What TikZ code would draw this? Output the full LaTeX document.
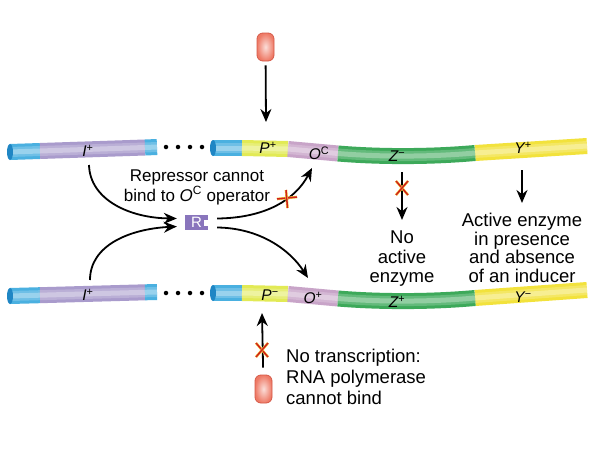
\documentclass[tikz,border=0pt]{standalone}
\usepackage{fontspec}
\setmainfont{Liberation Sans}
\usetikzlibrary{arrows.meta}
\definecolor{tblue}{HTML}{4AB0E0}
\definecolor{tbluedk}{HTML}{1F86C4}
\definecolor{tpurple}{HTML}{A99BCC}
\definecolor{tpyel}{HTML}{E2EA55}
\definecolor{topink}{HTML}{C8A4C8}
\definecolor{tgreen}{HTML}{3DA95A}
\definecolor{tyellow}{HTML}{F2E23C}
\definecolor{rpurple}{HTML}{8975BC}
\definecolor{polfill}{HTML}{EE7A66}
\definecolor{poldraw}{HTML}{D65A48}
\definecolor{xred}{HTML}{D0201E}
\definecolor{xyel}{HTML}{F5D040}
\begin{document}
\begin{tikzpicture}[x=1pt,y=-1pt,
  tube/.style={line width=16pt,line cap=butt},
  shine/.style={line width=10pt,white,opacity=0.2,line cap=butt},
  shinein/.style={line width=5pt,white,opacity=0.3,line cap=butt},
  arr/.style={line width=1.8pt,-{Stealth[length=13pt,width=11pt]}},
  lbl/.style={font=\fontsize{15.5}{15.5}\selectfont,inner sep=0pt},
  pill/.style={rounded corners=6pt,minimum width=17pt,minimum height=28pt,inner sep=0pt,draw=poldraw,line width=0.8pt,inner color=polfill!25,outer color=polfill},
  rbox/.style={fill=rpurple,minimum width=23pt,minimum height=15pt,inner sep=0pt,text=white,font=\fontsize{15}{15}\selectfont},
  xmark/.style={xred,line width=1.5pt},
  xunder/.style={xyel,line width=2.6pt},
  dot/.style={circle,fill=black,inner sep=0pt,minimum size=4.5pt},
  endcap/.style={fill=tbluedk}]
\useasboundingbox (0,0) rectangle (600,450);
\fill[white] (0,0) rectangle (600,450);
% ---------- top chromosome ----------
\coordinate (tl0) at (10,152); \coordinate (tl1) at (40,151);
\coordinate (tl2) at (145,147.5); \coordinate (tl3) at (157,147);
\coordinate (tr0) at (213,148); \coordinate (tr1) at (242,148);
\coordinate (tr2) at (288,149); \coordinate (tr3) at (338,153.5);
\coordinate (tr4) at (475,153); \coordinate (tr5) at (587,146);
\foreach \a/\b/\c in {tl0/tl1/tblue,tl1/tl2/tpurple,tl2/tl3/tblue,tr0/tr1/tblue,tr1/tr2/tpyel,tr2/tr3/topink,tr4/tr5/tyellow}{
  \draw[tube,\c] (\a) -- (\b);
  \draw[shine] (\a) -- (\b);
  \draw[shinein] (\a) -- (\b);}
\draw[tube,tgreen] (tr3) .. controls (380,157) and (430,157) .. (tr4);
\draw[shine] (tr3) .. controls (380,157) and (430,157) .. (tr4);
\draw[shinein] (tr3) .. controls (380,157) and (430,157) .. (tr4);
\fill[endcap] (tl0) ellipse [x radius=3pt,y radius=8pt];
\fill[endcap] (tr0) ellipse [x radius=3pt,y radius=8pt];
% ---------- bottom chromosome ----------
\coordinate (bl0) at (10,296); \coordinate (bl1) at (40,295.2);
\coordinate (bl2) at (145,292.3); \coordinate (bl3) at (157,292);
\coordinate (br0) at (213,293); \coordinate (br1) at (242,293);
\coordinate (br2) at (288,294); \coordinate (br3) at (338,298.5);
\coordinate (br4) at (475,298); \coordinate (br5) at (587,290);
\foreach \a/\b/\c in {bl0/bl1/tblue,bl1/bl2/tpurple,bl2/bl3/tblue,br0/br1/tblue,br1/br2/tpyel,br2/br3/topink,br4/br5/tyellow}{
  \draw[tube,\c] (\a) -- (\b);
  \draw[shine] (\a) -- (\b);
  \draw[shinein] (\a) -- (\b);}
\draw[tube,tgreen] (br3) .. controls (380,302) and (430,302) .. (br4);
\draw[shine] (br3) .. controls (380,302) and (430,302) .. (br4);
\draw[shinein] (br3) .. controls (380,302) and (430,302) .. (br4);
\fill[endcap] (bl0) ellipse [x radius=3pt,y radius=8pt];
\fill[endcap] (br0) ellipse [x radius=3pt,y radius=8pt];
% dots
\foreach \x [count=\i] in {166,178,190,202}{
  \node[dot] (dt\i) at (\x,147) {};
  \node[dot] (db\i) at (\x,293) {};}
% gene labels
\node[lbl] (Itop) at (88,151) {{\itshape I}\textsuperscript{+}};
\node[lbl] (Ptop) at (268,148) {{\itshape P}\textsuperscript{+}};
\node[lbl] (Otop) at (319,153) {{\itshape O}\textsuperscript{C}};
\node[lbl] (Ztop) at (397,156) {{\itshape Z}\textsuperscript{−}};
\node[lbl] (Ytop) at (523,148) {{\itshape Y}\textsuperscript{+}};
\node[lbl] (Ibot) at (88,295) {{\itshape I}\textsuperscript{+}};
\node[lbl] (Pbot) at (270,295) {{\itshape P}\textsuperscript{−}};
\node[lbl] (Obot) at (313,298) {{\itshape O}\textsuperscript{+}};
\node[lbl] (Zbot) at (397,302) {{\itshape Z}\textsuperscript{+}};
\node[lbl] (Ybot) at (523,297) {{\itshape Y}\textsuperscript{−}};
% RNA polymerases
\node[pill] (pol1) at (265.5,47) {};
\coordinate (p1tip) at (266,122);
\draw[arr,shorten <=4pt] (pol1) -- (p1tip);
\node[pill] (pol2) at (263.5,389) {};
\coordinate (p2tip) at (262,313);
\draw[arr,shorten <=7pt] (pol2) -- (p2tip);
\coordinate (x3) at (262,350);
\draw[xunder] ([shift={(-6,-7)}]x3) -- ([shift={(6,7)}]x3);
\draw[xmark] ([shift={(-6,-7)}]x3) -- ([shift={(6,7)}]x3);
\draw[xunder] ([shift={(6,-7)}]x3) -- ([shift={(-6,7)}]x3);
\draw[xmark] ([shift={(6,-7)}]x3) -- ([shift={(-6,7)}]x3);
% repressor
\node[rbox] (R) at (196.5,222.5) {R};
\fill[white] ([shift={(-4,-3)}]R.east) rectangle ([shift={(0.5,3)}]R.east);
\coordinate (Iout1) at (89,165);
\coordinate (Iout2) at (90,280);
\draw[arr] (Iout1) .. controls (90,200) and (130,218) .. ([shift={(-8,-4)}]R.west);
\draw[arr] (Iout2) .. controls (90,245) and (130,229) .. ([shift={(-8,4)}]R.west);
\coordinate (Otip1) at (312,168);
\coordinate (Otip2) at (308,278);
\draw[arr] ([shift={(9,-4)}]R.east) .. controls (265,218) and (295,200) .. (Otip1);
\draw[arr] ([shift={(9,5)}]R.east) .. controls (260,228) and (290,250) .. (Otip2);
\coordinate (x1) at (287,198);
\draw[xunder] ([shift={(-10,1)}]x1) -- ([shift={(10,-1)}]x1);
\draw[xmark] ([shift={(-10,1)}]x1) -- ([shift={(10,-1)}]x1);
\draw[xunder] ([shift={(-1,-8)}]x1) -- ([shift={(0.5,10)}]x1);
\draw[xmark] ([shift={(-1,-8)}]x1) -- ([shift={(0.5,10)}]x1);
\node[font=\fontsize{17}{20}\selectfont,align=center,inner sep=0pt] (reptxt) at (197,187) {Repressor cannot\\bind to {\itshape O}\textsuperscript{C} operator};
% Z arrow
\coordinate (zs) at (402,172); \coordinate (zt) at (402,220);
\draw[arr] (zs) -- (zt);
\coordinate (x2) at (402,188);
\draw[xunder] ([shift={(-6,-7)}]x2) -- ([shift={(6,7)}]x2);
\draw[xmark] ([shift={(-6,-7)}]x2) -- ([shift={(6,7)}]x2);
\draw[xunder] ([shift={(6,-7)}]x2) -- ([shift={(-6,7)}]x2);
\draw[xmark] ([shift={(6,-7)}]x2) -- ([shift={(-6,7)}]x2);
\node[font=\fontsize{18.5}{19.5}\selectfont,align=center,inner sep=0pt] (noact) at (402,259) {No\\active\\enzyme};
% Y arrow
\coordinate (ys) at (522,170); \coordinate (yt) at (522,203);
\draw[arr] (ys) -- (yt);
\node[font=\fontsize{18.5}{18.5}\selectfont,align=center,inner sep=0pt] (act) at (522,248) {Active enzyme\\in presence\\and absence\\of an inducer};
% no transcription text
\node[font=\fontsize{18.5}{21}\selectfont,align=left,inner sep=0pt,anchor=west] (notr) at (286,377) {No transcription:\\RNA polymerase\\cannot bind};
\end{tikzpicture}
\end{document}
